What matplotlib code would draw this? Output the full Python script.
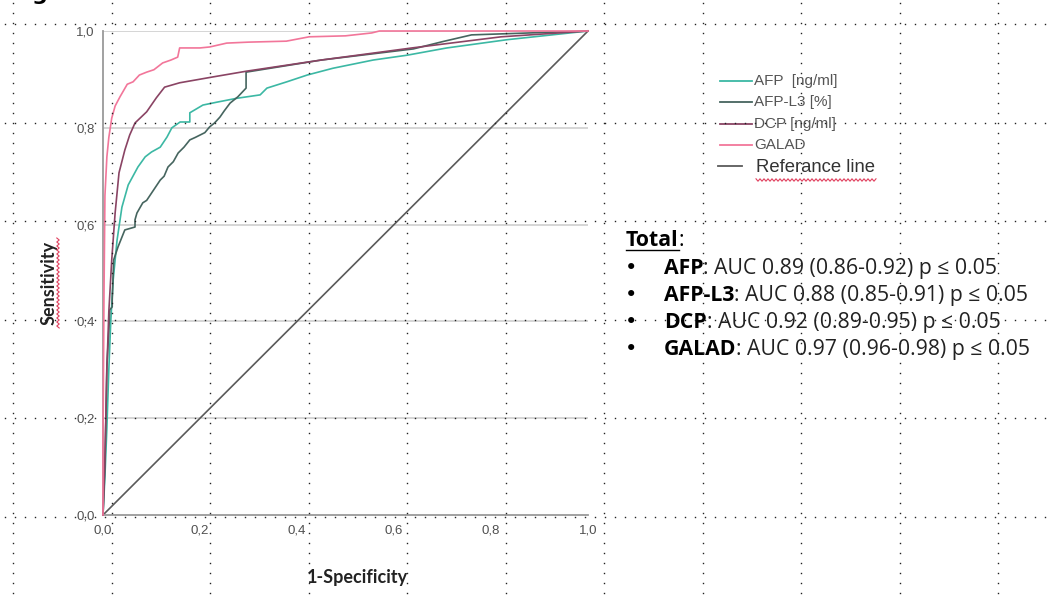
import numpy as np
import matplotlib
matplotlib.use("Agg")
import matplotlib.pyplot as plt
from matplotlib.lines import Line2D

W, H = 1048, 599

# ROC curves (false positive rate, true positive rate)
afp_fpr = [0, 0.004, 0.008, 0.012, 0.016, 0.021, 0.029, 0.039, 0.052, 0.072, 0.087, 0.10,
           0.118, 0.132, 0.142, 0.159, 0.179, 0.179, 0.206, 0.235, 0.276, 0.324, 0.338,
           0.379, 0.421, 0.474, 0.557, 0.627, 0.709, 0.833, 1.0]
afp_tpr = [0, 0.08, 0.18, 0.30, 0.40, 0.486, 0.568, 0.636, 0.682, 0.719, 0.74, 0.75,
           0.76, 0.781, 0.80, 0.812, 0.812, 0.831, 0.847, 0.853, 0.861, 0.868, 0.882,
           0.895, 0.909, 0.923, 0.94, 0.95, 0.965, 0.982, 1.0]

l3_fpr = [0, 0.004, 0.006, 0.008, 0.012, 0.014, 0.019, 0.019, 0.022, 0.031, 0.045, 0.066,
          0.066, 0.07, 0.082, 0.09, 0.10, 0.11, 0.118, 0.126, 0.134, 0.145, 0.155, 0.167,
          0.179, 0.19, 0.2, 0.21, 0.22, 0.23, 0.241, 0.25, 0.262, 0.278, 0.295, 0.295,
          0.45, 0.64, 0.70, 0.76, 0.85, 1.0]
l3_tpr = [0, 0.10, 0.20, 0.31, 0.38, 0.424, 0.43, 0.444, 0.527, 0.554, 0.589, 0.595,
          0.61, 0.624, 0.645, 0.65, 0.665, 0.68, 0.692, 0.70, 0.719, 0.73, 0.748, 0.76,
          0.775, 0.78, 0.785, 0.79, 0.802, 0.81, 0.822, 0.835, 0.851, 0.864, 0.882, 0.915,
          0.94, 0.963, 0.978, 0.992, 0.995, 1.0]

dcp_fpr = [0, 0.004, 0.008, 0.012, 0.018, 0.025, 0.033, 0.045, 0.055, 0.066, 0.09, 0.11,
           0.127, 0.158, 0.226, 0.296, 0.45, 0.637, 0.821, 1.0]
dcp_tpr = [0, 0.12, 0.30, 0.42, 0.527, 0.624, 0.707, 0.754, 0.785, 0.81, 0.833, 0.862,
           0.884, 0.893, 0.905, 0.917, 0.94, 0.965, 0.988, 1.0]

galad_fpr = [0, 0, 0.002, 0.004, 0.008, 0.012, 0.018, 0.025, 0.035, 0.05, 0.062, 0.075,
             0.09, 0.105, 0.123, 0.14, 0.154, 0.158, 0.20, 0.22, 0.255, 0.30, 0.378, 0.425,
             0.5, 0.554, 0.57, 1.0]
galad_tpr = [0, 0.15, 0.45, 0.66, 0.74, 0.78, 0.82, 0.845, 0.864, 0.89, 0.895, 0.909,
             0.915, 0.92, 0.934, 0.94, 0.946, 0.965, 0.965, 0.967, 0.975, 0.977, 0.979,
             0.988, 0.99, 0.996, 1.0, 1.0]

ref_line = [0, 1]

ticks = [0, 0.2, 0.4, 0.6, 0.8, 1.0]
tick_labels = ["0,0", "0,2", "0,4", "0,6", "0,8", "1,0"]

legend_labels = ["AFP  [ng/ml]", "AFP-L3 [%]", "DCP [ng/ml]", "GALAD"]
colors = ["#3cb8a4", "#46655f", "#8a4464", "#f2769a"]

summary_names = ["AFP", "AFP-L3", "DCP", "GALAD"]
summary_texts = [": AUC 0.89 (0.86-0.92) p \u2264 0.05",
                 ": AUC 0.88 (0.85-0.91) p \u2264 0.05",
                 ": AUC 0.92 (0.89-0.95) p \u2264 0.05",
                 ": AUC 0.97 (0.96-0.98) p \u2264 0.05"]

fig = plt.figure(figsize=(W / 100, H / 100), dpi=100)
fig.patch.set_facecolor("white")


def fx(px):
    return px / W


def fy(py):
    return 1 - py / H


ax = fig.add_axes([fx(103), fy(515), 485 / W, 484 / H])
ax.set_xlim(0, 1)
ax.set_ylim(0, 1)

for y in ticks[1:]:
    ax.axhline(y, color="#d2d2d2", lw=1.3, zorder=1)

ax.plot(ref_line, ref_line, color="#5a5a5a", lw=1.2, zorder=2, clip_on=False)
curves = [(afp_fpr, afp_tpr), (l3_fpr, l3_tpr), (dcp_fpr, dcp_tpr), (galad_fpr, galad_tpr)]
for (fpr, tpr), c in zip(curves, colors):
    ax.plot(fpr, tpr, color=c, lw=1.2, zorder=3, clip_on=False)

for s in ["top", "right"]:
    ax.spines[s].set_visible(False)
ax.spines["left"].set_color("#9a9a9a")
ax.spines["bottom"].set_color("#9a9a9a")
ax.spines["left"].set_linewidth(1.3)
ax.spines["bottom"].set_linewidth(1.3)
ax.set_xticks(ticks)
ax.set_yticks(ticks)
ax.set_xticklabels(tick_labels)
ax.set_yticklabels(tick_labels)
ax.tick_params(length=0, labelsize=9.5, colors="#505050")
ax.tick_params(axis="x", pad=7)
ax.tick_params(axis="y", pad=6)
for lab in ax.get_xticklabels() + ax.get_yticklabels():
    lab.set_family("Liberation Sans")
ax.set_facecolor("none")

ax.set_xlabel("1-Specificity", fontsize=13, fontweight="bold", family="Lato",
              color="#222222")
ax.xaxis.set_label_coords((357 - 103) / 485, -(578 - 515) / 484)
ax.xaxis.label.set_va("center")
ax.set_ylabel("Sensitivity", fontsize=13, fontweight="bold", family="Lato",
              color="#222222")
ax.yaxis.set_label_coords(-(103 - 49) / 485, (515 - 283) / 484)
ax.yaxis.label.set_va("center")


def wavy(x0, x1, y, vertical=False):
    t = np.arange(0, x1 - x0 + 0.1, 2.0)
    off = np.where(np.arange(len(t)) % 2 == 0, -1.2, 1.2)
    if vertical:
        xs, ys = y + off, x0 + t
    else:
        xs, ys = x0 + t, y + off
    fig.add_artist(Line2D(fx(xs), fy(ys), color="#e0405e", lw=0.8,
                          transform=fig.transFigure))


wavy(238, 328, 58, vertical=True)

# legend
for i, (lab, c) in enumerate(zip(legend_labels, colors)):
    yy = 81 + i * 21.3
    fig.add_artist(Line2D([fx(720), fx(752)], [fy(yy), fy(yy)], color=c, lw=1.3,
                          transform=fig.transFigure))
    fig.text(fx(754), fy(yy), lab, fontsize=11, family="Liberation Sans",
             color="#555555", va="center", ha="left")
fig.add_artist(Line2D([fx(718), fx(742)], [fy(166), fy(166)], color="#5a5a5a", lw=1.3,
                      transform=fig.transFigure))
fig.text(fx(756), fy(168), "Referance line", fontsize=13.3, family="Liberation Sans",
         color="#333333", va="center", ha="left")
wavy(756, 877, 180)

# summary block
renderer = fig.canvas.get_renderer()
font = ["Open Sans", "DejaVu Sans"]
fs = 15.3
t = fig.text(fx(626), fy(246), "Total", fontsize=fs, fontweight="bold", family=font,
             color="black", va="baseline")
bb = t.get_window_extent(renderer)
fig.add_artist(Line2D([bb.x0 / W, bb.x1 / W], [fy(250), fy(250)], color="black", lw=1.0,
                      transform=fig.transFigure))
fig.text(bb.x1 / W, fy(246), ":", fontsize=fs, family=font, color="black", va="baseline")

for i, (name, rest) in enumerate(zip(summary_names, summary_texts)):
    base = 274 + i * 27
    fig.text(fx(625), fy(base), "\u2022", fontsize=fs, family="DejaVu Sans",
             color="black", va="baseline")
    t = fig.text(fx(664), fy(base), name, fontsize=fs, fontweight="bold", family=font,
                 color="black", va="baseline")
    bb = t.get_window_extent(renderer)
    fig.text(bb.x1 / W, fy(base), rest, fontsize=fs, family=font, color="#222222",
             va="baseline")

# partly cut-off heading letter
fig.text(fx(32), 1.0, "g", fontsize=16, fontweight="bold", color="black", va="baseline")

# slide grid dots
dot_xs = 13 + 98.5 * np.arange(11)
dot_ys = 24 + 98.5 * np.arange(6)
for gy in dot_ys:
    xs = np.arange(5, W, 10)
    fig.add_artist(Line2D(fx(xs), fy(np.full(len(xs), gy)), ls="none", marker="s",
                          ms=1.0, mew=0, color="#222222", transform=fig.transFigure,
                          zorder=10))
for gx in dot_xs:
    ys = np.arange(3, H, 10)
    fig.add_artist(Line2D(fx(np.full(len(ys), gx)), fy(ys), ls="none", marker="s",
                          ms=1.0, mew=0, color="#222222", transform=fig.transFigure,
                          zorder=10))

fig.savefig("out.png", dpi=100)
